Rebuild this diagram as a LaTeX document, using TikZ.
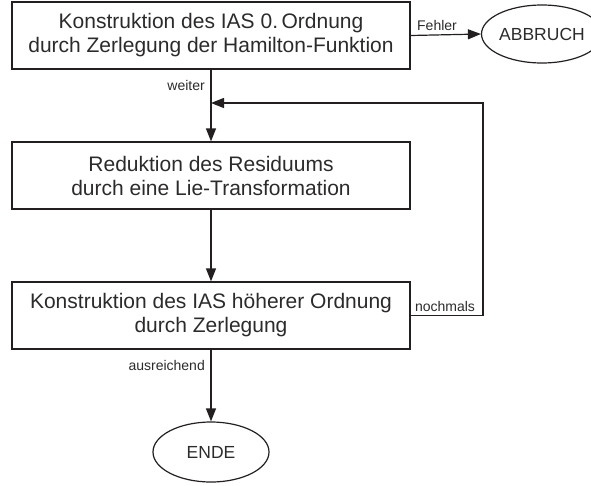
\documentclass[tikz,border=0pt]{standalone}
\usepackage{fontspec}
\setmainfont{Liberation Sans}
\usetikzlibrary{arrows.meta,positioning,shapes.geometric}
\definecolor{flowline}{RGB}{35,31,32}
\definecolor{flowtext}{RGB}{45,42,43}

\begin{document}
\begin{tikzpicture}[x=1pt, y=-1pt,
    stepbox/.style={draw=flowline, line width=1.2pt, minimum width=398pt, minimum height=67pt, align=center, font=\fontsize{21}{24}\selectfont, text=flowtext},
    termbox/.style={ellipse, draw=flowline, line width=1.2pt, inner sep=0pt, font=\fontsize{17.5}{20}\selectfont, text=flowtext},
    flow/.style={draw=flowline, line width=1.2pt, -{Triangle[length=13pt, width=10pt]}},
    flowlabel/.style={font=\fontsize{14}{16}\selectfont, text=flowtext, inner sep=1pt}]
  \useasboundingbox (0,0) rectangle (591,485);

  %% Steps
  \node[stepbox] (kons0) at (211,35.5) {Konstruktion des IAS 0.\,Ordnung\\durch Zerlegung der Hamilton-Funktion};
  \node[stepbox] (reduk) at (211,175.5) {Reduktion des Residuums\\durch eine Lie-Transformation};
  \node[stepbox] (konsn) at (211,315.5) {Konstruktion des IAS höherer Ordnung\\durch Zerlegung};

  %% Terminals
  \node[termbox, minimum width=118pt, minimum height=58pt] (abbruch) at (542,34) {ABBRUCH};
  \node[termbox, minimum width=116pt, minimum height=60pt] (ende) at (211,452) {ENDE};

  %% Connectors
  \coordinate (merge) at (211,103);
  \draw[flow] (kons0.east) -- (abbruch.west);
  \draw[flow] (kons0.south) -- (reduk.north);
  \draw[flow] (reduk.south) -- (konsn.north);
  \draw[flow] (konsn.south) -- (ende.north);
  \draw[flow] (konsn.east) -- (483,315.5) |- (merge);

  %% Labels
  \node[flowlabel, anchor=south] (fehler) at (437,32) {Fehler};
  \node[flowlabel, anchor=east] (weiter) at (206,85) {weiter};
  \node[flowlabel, anchor=south] (nochmals) at (445,313) {nochmals};
  \node[flowlabel, anchor=east] (ausreichend) at (206,365) {ausreichend};
\end{tikzpicture}
\end{document}
